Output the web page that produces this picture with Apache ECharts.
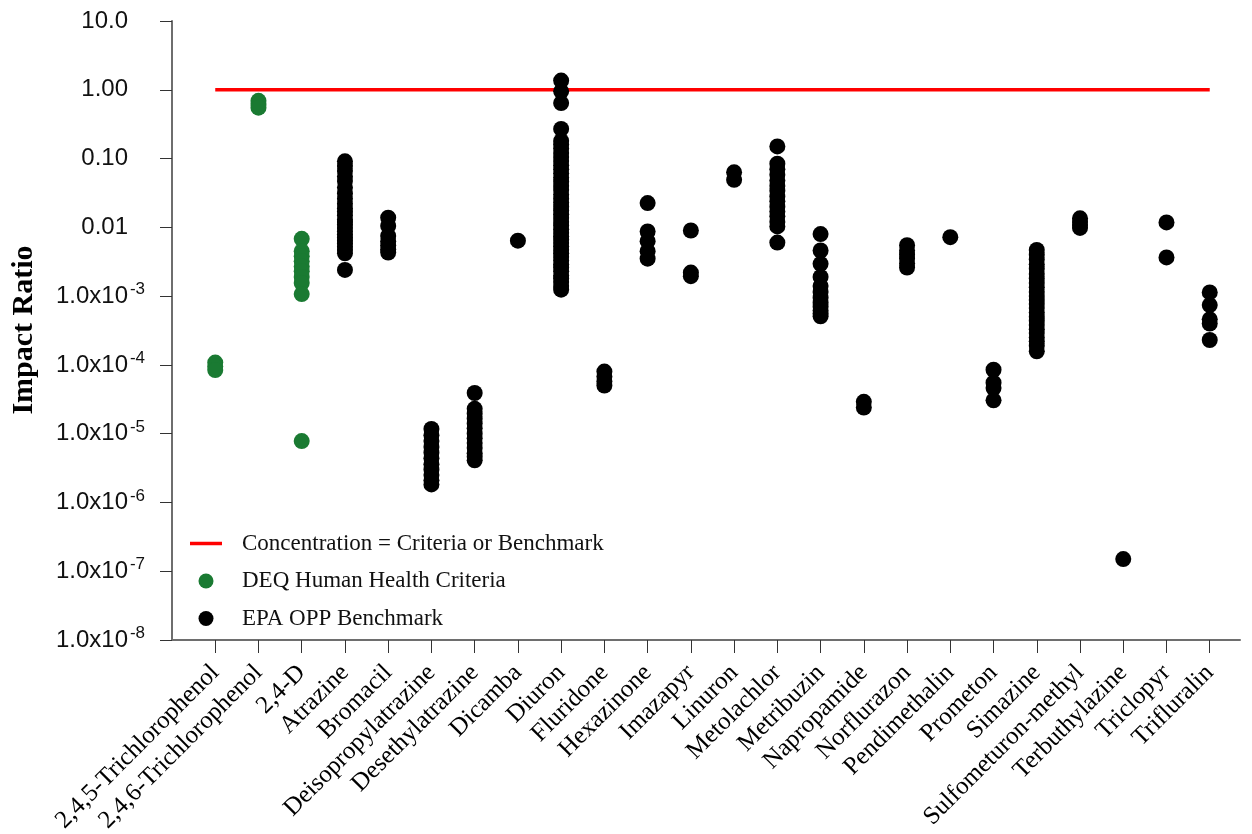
<!DOCTYPE html>
<html>
<head>
<meta charset="utf-8">
<title>Impact Ratio by Pesticide</title>
<script src="https://cdn.jsdelivr.net/npm/echarts@6/dist/echarts.min.js"></script>
<style>
  html, body { margin: 0; padding: 0; background: #fff; }
  #chart { width: 1252px; height: 834px; }
</style>
</head>
<body>
<div id="chart"></div>
<script>
// Compounds along the x axis (positions 1..24)
const categories = [
  '2,4,5-Trichlorophenol', '2,4,6-Trichlorophenol', '2,4-D', 'Atrazine', 'Bromacil',
  'Deisopropylatrazine', 'Desethylatrazine', 'Dicamba', 'Diuron', 'Fluridone',
  'Hexazinone', 'Imazapyr', 'Linuron', 'Metolachlor', 'Metribuzin', 'Napropamide',
  'Norflurazon', 'Pendimethalin', 'Prometon', 'Simazine', 'Sulfometuron-methyl',
  'Terbuthylazine', 'Triclopyr', 'Trifluralin'
];

// Printed labels for the decades that are not written in power-of-ten form
const yPlainLabels = { '1': '10.0', '0': '1.00', '-1': '0.10', '-2': '0.01' };

// Impact ratios compared with DEQ human health criteria
const trichlorophenol245 = [1.08e-4, 9.5e-5, 8.4e-5];
const trichlorophenol246 = [0.69, 0.62, 0.55];
const d24 = [6.8e-3, 4.5e-3, 3.8e-3, 3.2e-3, 2.7e-3, 2.3e-3, 1.9e-3, 1.55e-3, 1.07e-3, 7.8e-6];

// Impact ratios compared with EPA OPP benchmarks
const atrazine = [0.091, 0.078, 0.066, 0.055, 0.047, 0.038, 0.031, 0.026, 0.022, 0.019, 0.017,
  0.015, 0.013, 0.012, 0.011, 0.0098, 0.0088, 0.0079, 0.0071, 0.0064, 0.0058, 0.0052, 0.0047,
  0.0042, 0.0024];
const bromacil = [0.0138, 0.0105, 0.0075, 0.0063, 0.0055, 0.0048, 0.0043];
const deisopropylatrazine = [1.17e-5, 9.5e-6, 7.8e-6, 6.4e-6, 5.3e-6, 4.4e-6, 3.6e-6, 3.0e-6,
  2.5e-6, 2.1e-6, 1.83e-6];
const desethylatrazine = [3.9e-5, 2.3e-5, 1.95e-5, 1.65e-5, 1.4e-5, 1.2e-5, 1.0e-5, 8.6e-6,
  7.3e-6, 6.2e-6, 5.2e-6, 4.6e-6, 4.1e-6];
const dicamba = [6.4e-3];
const diuron = [1.36, 0.95, 0.64, 0.27, 0.18, 0.16, 0.14, 0.12, 0.105, 0.092, 0.08, 0.07, 0.061,
  0.053, 0.046, 0.04, 0.035, 0.03, 0.026, 0.023, 0.02, 0.0175, 0.0155, 0.0137, 0.012, 0.0106,
  0.0094, 0.0083, 0.0074, 0.0066, 0.0059, 0.0053, 0.0047, 0.0042, 0.0037, 0.0033, 0.0029,
  0.0026, 0.0023, 0.002, 0.0018, 0.0016, 0.0014, 0.00124];
const fluridone = [8.0e-5, 6.8e-5, 5.8e-5, 5.0e-5];
const hexazinone = [0.0225, 8.7e-3, 6.3e-3, 4.5e-3, 3.5e-3];
const imazapyr = [9.0e-3, 2.2e-3, 1.95e-3];
const linuron = [0.063, 0.049];
const metolachlor = [0.15, 0.084, 0.07, 0.058, 0.048, 0.04, 0.034, 0.028, 0.024, 0.02, 0.017,
  0.0145, 0.012, 0.0103, 0.006];
const metribuzin = [7.97e-3, 4.6e-3, 2.95e-3, 1.9e-3, 1.4e-3, 1.15e-3, 9.5e-4, 8.0e-4, 7.0e-4,
  6.2e-4, 5.6e-4, 5.1e-4];
const napropamide = [2.9e-5, 2.4e-5];
const norflurazon = [5.5e-3, 4.6e-3, 4.0e-3, 3.5e-3, 3.0e-3, 2.6e-3];
const pendimethalin = [7.2e-3];
const prometon = [8.5e-5, 5.5e-5, 4.6e-5, 3.05e-5];
const simazine = [4.7e-3, 4.0e-3, 3.4e-3, 2.9e-3, 2.5e-3, 2.1e-3, 1.8e-3, 1.55e-3, 1.35e-3,
  1.15e-3, 1.0e-3, 8.8e-4, 7.7e-4, 6.7e-4, 5.8e-4, 5.0e-4, 4.4e-4, 3.8e-4, 3.3e-4, 2.9e-4,
  2.5e-4, 2.2e-4, 1.9e-4, 1.58e-4];
const sulfometuronMethyl = [0.0135, 0.012, 0.0108, 0.0098];
const terbuthylazine = [1.5e-7];
const triclopyr = [0.0118, 3.65e-3];
const trifluralin = [1.13e-3, 7.4e-4, 4.6e-4, 4.0e-4, 2.3e-4];

// Ratio at which the concentration equals the criterion / benchmark
const thresholdRatio = 1;

const deqGroups = [trichlorophenol245, trichlorophenol246, d24];
const epaGroups = [atrazine, bromacil, deisopropylatrazine, desethylatrazine, dicamba, diuron,
  fluridone, hexazinone, imazapyr, linuron, metolachlor, metribuzin, napropamide, norflurazon,
  pendimethalin, prometon, simazine, sulfometuronMethyl, terbuthylazine, triclopyr, trifluralin];

// Turn each group into [position, value] pairs; position is 1-based along the x axis
function toPoints(groups, firstPosition) {
  const pts = [];
  groups.forEach((vals, i) => vals.forEach(v => pts.push([firstPosition + i, v])));
  return pts;
}
const deqPoints = toPoints(deqGroups, 1);
const epaPoints = toPoints(epaGroups, deqGroups.length + 1);
const positions = categories.map((_, i) => i + 1);

const SERIF = '"Liberation Serif", "Times New Roman", serif';
const SANS = '"Liberation Sans", Arial, sans-serif';
const AXIS_GRAY = '#6e6e6e';

const chart = echarts.init(document.getElementById('chart'), null, { renderer: 'canvas' });

chart.setOption({
  backgroundColor: '#ffffff',
  animation: false,
  grid: { left: 172, right: 12, top: 21, bottom: 194, containLabel: false, outerBoundsMode: 'none' },
  legend: {
    orient: 'vertical',
    left: 190,
    top: 532,
    padding: 0,
    itemWidth: 32,
    itemHeight: 15,
    itemGap: 14.5,
    data: [
      { name: 'Concentration = Criteria or Benchmark', icon: 'path://M0,0L32,0L32,3.5L0,3.5Z' },
      { name: 'DEQ Human Health Criteria', icon: 'circle' },
      { name: 'EPA OPP Benchmark', icon: 'circle' }
    ],
    textStyle: { fontFamily: SERIF, fontSize: 23, color: '#111', padding: [0, 0, 0, 15] }
  },
  graphic: [{
    type: 'text',
    x: 24,
    y: 330,
    rotation: Math.PI / 2,
    style: {
      text: 'Impact Ratio',
      font: 'bold 30px ' + SERIF,
      fill: '#000',
      textAlign: 'center',
      textVerticalAlign: 'middle'
    }
  }],
  xAxis: {
    type: 'value',
    min: 0,
    max: 24.7,
    axisLine: { show: true, lineStyle: { color: AXIS_GRAY, width: 2 } },
    axisTick: { show: true, length: 13, customValues: positions, lineStyle: { color: '#333', width: 1 } },
    axisLabel: {
      customValues: positions,
      rotate: 45,
      margin: 29,
      fontFamily: SERIF,
      fontSize: 25,
      color: '#000',
      formatter: v => categories[Math.round(v) - 1] || ''
    },
    splitLine: { show: false }
  },
  yAxis: {
    type: 'log',
    logBase: 10,
    min: 1e-8,
    max: 10,
    splitNumber: 9,
    axisLine: { show: true, lineStyle: { color: AXIS_GRAY, width: 2 } },
    axisTick: { show: true, length: 12, lineStyle: { color: '#333', width: 1 } },
    splitLine: { show: false },
    axisLabel: {
      margin: 27,
      formatter: v => {
        const e = Math.round(Math.log10(v));
        const plain = yPlainLabels[String(e)];
        if (plain) return '{b|' + plain + '}{s|}';
        return '{b|1.0x10}{e|' + e + '}';
      },
      rich: {
        b: { fontFamily: SANS, fontSize: 24, color: '#111', lineHeight: 28 },
        s: { width: 17 },
        e: { fontFamily: SANS, fontSize: 17, color: '#111', width: 17, verticalAlign: 'bottom', padding: [0, 0, 13, 0] }
      }
    }
  },
  series: [
    {
      name: 'Concentration = Criteria or Benchmark',
      type: 'line',
      data: [[1, thresholdRatio], [categories.length, thresholdRatio]],
      symbol: 'none',
      lineStyle: { color: '#ff0000', width: 3.5 },
      itemStyle: { color: '#ff0000' },
      z: 1
    },
    {
      name: 'DEQ Human Health Criteria',
      type: 'scatter',
      data: deqPoints,
      symbol: 'circle',
      symbolSize: 16,
      itemStyle: { color: '#1a7a32', opacity: 1 },
      z: 3
    },
    {
      name: 'EPA OPP Benchmark',
      type: 'scatter',
      data: epaPoints,
      symbol: 'circle',
      symbolSize: 16,
      itemStyle: { color: '#000000', opacity: 1 },
      z: 3
    }
  ]
});
</script>
</body>
</html>
